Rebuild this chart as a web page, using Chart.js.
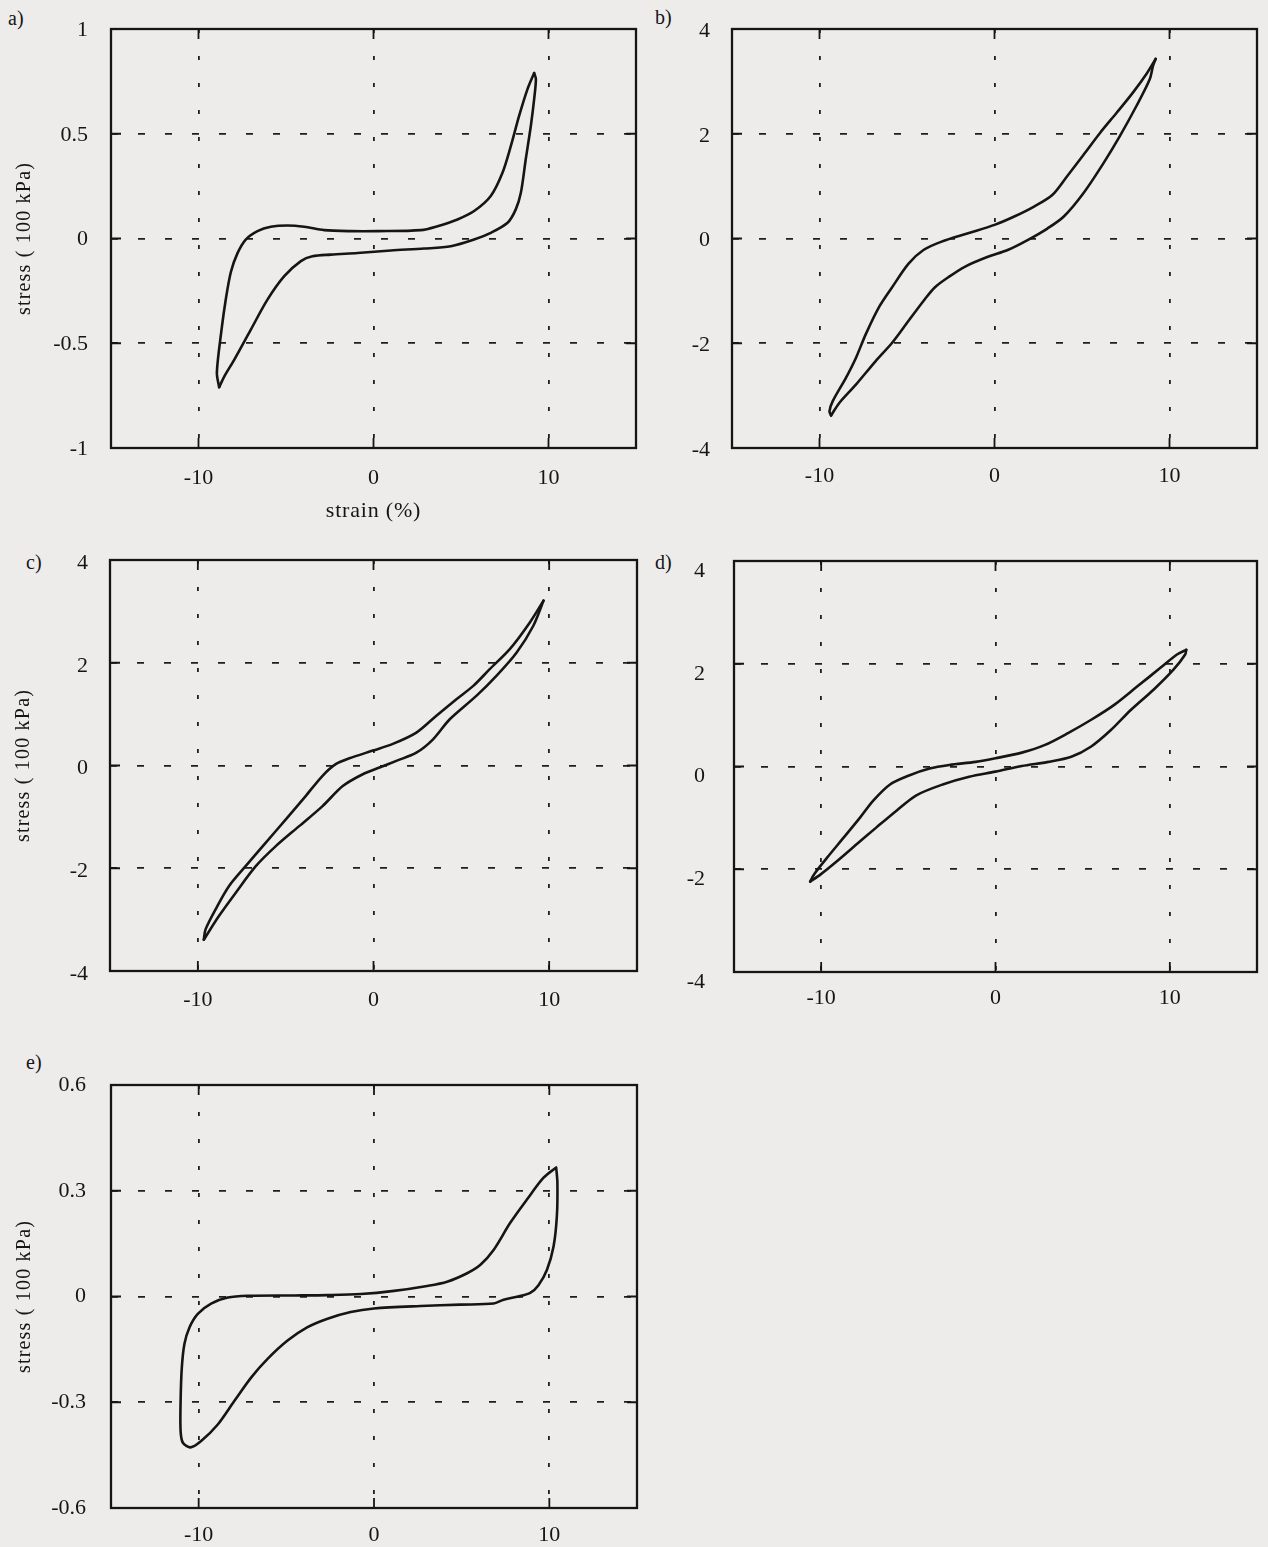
<!DOCTYPE html>
<html><head><meta charset="utf-8">
<script src="https://cdn.jsdelivr.net/npm/chart.js@4.4.1/dist/chart.umd.min.js"></script>
<style>
html,body{margin:0;padding:0;background:#eeeceb;}
body{width:1268px;height:1547px;position:relative;overflow:hidden;font-family:"Liberation Serif","Times New Roman",serif;color:#151515;}
canvas{position:absolute;}
.lbl{position:absolute;font-size:20px;line-height:20px;white-space:nowrap;}
</style></head><body>
<div class="lbl" style="left:8px;top:8px">a)</div>
<div class="lbl" style="left:655px;top:7px">b)</div>
<div class="lbl" style="left:26px;top:552px">c)</div>
<div class="lbl" style="left:655px;top:552px">d)</div>
<div class="lbl" style="left:26px;top:1052px">e)</div>
<canvas id="ca"></canvas>
<canvas id="cb"></canvas>
<canvas id="cc"></canvas>
<canvas id="cd"></canvas>
<canvas id="ce"></canvas>
<script>
// ---------- data ----------
const xTicks = [-10, 0, 10];
const aYTicks = [-1, -0.5, 0, 0.5, 1];
const bYTicks = [-4, -2, 0, 2, 4];
const cYTicks = [-4, -2, 0, 2, 4];
const dYTicks = [-4, -2, 0, 2, 4];
const eYTicks = [-0.6, -0.3, 0, 0.3, 0.6];
const xTitleText = 'strain (%)';
const yTitleText = 'stress ( 100 kPa)';

// a)
const aLoadStrain = [-8.82, -8.95, -8.69, -8.44, -8.15, -7.77, -7.30, -6.63, -5.87, -4.91, -3.96, -2.82, -1.30, 0.23, 2.70, 3.66, 4.80, 5.75, 6.70, 7.37, 7.85, 8.32, 8.80, 9.18];
const aLoadStress = [-0.71, -0.64, -0.44, -0.29, -0.16, -0.07, -0.005, 0.035, 0.056, 0.062, 0.056, 0.040, 0.035, 0.035, 0.040, 0.059, 0.091, 0.131, 0.203, 0.314, 0.442, 0.585, 0.713, 0.79];
const aUnloadStrain = [9.18, 9.28, 9.18, 8.99, 8.70, 8.42, 8.13, 7.66, 6.70, 5.75, 4.42, 2.90, 0.99, -0.91, -2.44, -3.49, -4.15, -5.10, -6.06, -7.01, -7.96, -8.53, -8.82];
const aUnloadStress = [0.79, 0.761, 0.665, 0.537, 0.378, 0.218, 0.139, 0.075, 0.027, -0.005, -0.037, -0.048, -0.057, -0.069, -0.077, -0.085, -0.108, -0.180, -0.292, -0.435, -0.579, -0.659, -0.71];

// b)
const bLoadStrain = [-9.34, -9.43, -9.25, -8.49, -7.92, -7.36, -6.60, -5.85, -4.91, -4.06, -3.02, -1.51, 0, 1.13, 2.26, 3.30, 4.15, 5.09, 6.04, 6.98, 7.92, 8.68, 9.21];
const bLoadStress = [-3.38, -3.30, -3.11, -2.66, -2.28, -1.83, -1.31, -0.93, -0.48, -0.22, -0.06, 0.10, 0.26, 0.42, 0.61, 0.83, 1.19, 1.60, 2.02, 2.40, 2.79, 3.14, 3.43];
const bUnloadStrain = [9.21, 9.06, 8.87, 8.11, 7.17, 6.23, 5.09, 3.96, 3.02, 1.89, 0.75, -0.38, -1.70, -2.64, -3.40, -3.96, -4.91, -5.85, -6.79, -7.92, -8.87, -9.34];
const bUnloadStress = [3.43, 3.30, 3.04, 2.53, 1.96, 1.44, 0.87, 0.42, 0.19, -0.03, -0.22, -0.35, -0.54, -0.74, -0.93, -1.15, -1.57, -1.99, -2.34, -2.79, -3.14, -3.38];

// c)
const cLoadStrain = [-9.66, -9.56, -8.99, -8.23, -7.28, -6.13, -4.99, -3.85, -2.90, -2.13, -1.37, -0.04, 1.10, 2.44, 3.58, 4.72, 5.68, 6.63, 7.77, 8.91, 9.68];
const cLoadStress = [-3.39, -3.19, -2.80, -2.35, -1.96, -1.50, -1.05, -0.59, -0.20, 0.03, 0.14, 0.29, 0.42, 0.64, 0.97, 1.29, 1.55, 1.88, 2.27, 2.79, 3.21];
const cUnloadStrain = [9.68, 9.10, 8.15, 7.01, 5.87, 4.34, 3.39, 2.44, 1.30, 0.34, -0.61, -1.75, -2.90, -4.23, -5.56, -6.70, -7.85, -8.80, -9.66];
const cUnloadStress = [3.21, 2.72, 2.20, 1.75, 1.36, 0.90, 0.51, 0.25, 0.09, -0.04, -0.17, -0.40, -0.79, -1.18, -1.57, -1.96, -2.48, -2.93, -3.39];

// d)
const dLoadStrain = [-10.63, -10.41, -9.65, -8.70, -7.76, -7.00, -6.05, -4.92, -3.78, -2.65, -1.14, 0, 1.51, 2.84, 4.16, 5.49, 6.81, 8.14, 9.46, 10.41, 10.94];
const dLoadStress = [-2.24, -2.10, -1.77, -1.38, -0.99, -0.66, -0.35, -0.17, -0.04, 0.03, 0.09, 0.16, 0.27, 0.42, 0.65, 0.91, 1.20, 1.56, 1.92, 2.18, 2.27];
const dUnloadStrain = [10.94, 10.88, 10.22, 9.08, 7.76, 6.62, 5.49, 4.35, 3.03, 1.51, 0, -1.51, -3.03, -4.54, -5.68, -6.81, -7.95, -9.08, -10.03, -10.63];
const dUnloadStress = [2.27, 2.18, 1.89, 1.50, 1.10, 0.71, 0.39, 0.19, 0.09, 0.01, -0.10, -0.20, -0.35, -0.56, -0.86, -1.18, -1.51, -1.84, -2.10, -2.24];

// e)
const eLoopStrain = [10.39, 10.46, 10.43, 10.24, 9.86, 9.38, 8.91, 8.15, 7.39, 6.82, 4.93, 2.65, 0, -1.33, -2.65, -3.79, -4.93, -6.07, -7.01, -7.96, -8.91, -9.86, -10.46, -10.90, -11.03, -11.03, -10.96, -10.81, -10.52, -10.05, -9.29, -8.34, -7.20, -4.55, -2.65, -0.76, 1.14, 3.03, 4.17, 5.31, 6.07, 6.82, 7.77, 8.72, 9.67, 10.39];
const eLoopStress = [0.366, 0.323, 0.228, 0.142, 0.075, 0.032, 0.010, -0.001, -0.009, -0.020, -0.023, -0.027, -0.034, -0.044, -0.063, -0.087, -0.125, -0.177, -0.230, -0.296, -0.363, -0.410, -0.428, -0.415, -0.382, -0.296, -0.201, -0.134, -0.087, -0.049, -0.020, -0.003, 0.002, 0.003, 0.004, 0.007, 0.016, 0.030, 0.042, 0.066, 0.090, 0.132, 0.209, 0.275, 0.337, 0.366];

// ---------- drawing ----------
const FONT = '"Liberation Serif", "Times New Roman", serif';
const INK = '#151515';
Chart.defaults.font.family = FONT;
Chart.defaults.color = INK;

function pts(xs, ys) { return xs.map((x, i) => ({ x: x, y: ys[i] })); }

const framePlugin = {
  id: 'frame',
  afterDraw(chart) {
    const { ctx, chartArea: a, scales: { x, y } } = chart;
    const TL = 10;
    ctx.save();
    ctx.setLineDash([]);
    ctx.strokeStyle = INK;
    ctx.lineWidth = 1.8;
    ctx.beginPath();
    x.ticks.forEach(t => {
      const p = x.getPixelForValue(t.value);
      ctx.moveTo(p, a.top); ctx.lineTo(p, a.top + TL);
      ctx.moveTo(p, a.bottom); ctx.lineTo(p, a.bottom - TL);
    });
    y.ticks.forEach(t => {
      const p = y.getPixelForValue(t.value);
      ctx.moveTo(a.left, p); ctx.lineTo(a.left + TL, p);
      ctx.moveTo(a.right, p); ctx.lineTo(a.right - TL, p);
    });
    ctx.stroke();
    ctx.lineWidth = 2.3;
    ctx.strokeRect(a.left, a.top, a.right - a.left, a.bottom - a.top);
    ctx.restore();
  }
};

const TITLE_SPACING = { x: '0.8px', y: '1.2px' };
const spacingPlugin = {
  id: 'titleSpacing',
  beforeDraw(chart) {
    ['x', 'y'].forEach(id => {
      const s = chart.scales[id];
      if (s && !s._spPatched) {
        const orig = s.drawTitle;
        s.drawTitle = function () {
          const c = this.ctx;
          c.save();
          c.letterSpacing = TITLE_SPACING[id];
          orig.call(this);
          c.restore();
        };
        s._spPatched = true;
      }
    });
  }
};

function makePanel(canvasId, frame, yTicks, branches, o) {
  const PT = 22, PR = 8;
  const cv = document.getElementById(canvasId);
  const w = o.yw + (frame.R - frame.L) + PR;
  const h = PT + (frame.B - frame.T) + o.xh;
  cv.width = w; cv.height = h;
  cv.style.width = w + 'px'; cv.style.height = h + 'px';
  cv.style.left = (frame.L - o.yw) + 'px';
  cv.style.top = (frame.T - PT) + 'px';
  const tickFont = { family: FONT, size: 22 };
  new Chart(cv.getContext('2d'), {
    type: 'scatter',
    data: {
      datasets: branches.map(b => ({
        data: pts(b[0], b[1]),
        showLine: true,
        borderColor: INK,
        borderWidth: 2.6,
        pointRadius: 0,
        pointHoverRadius: 0,
        tension: 0.3,
        fill: false,
        borderCapStyle: 'round',
        borderJoinStyle: 'round'
      }))
    },
    options: {
      responsive: false,
      animation: false,
      devicePixelRatio: 1,
      events: [],
      layout: { autoPadding: false, padding: { top: PT, right: PR, left: 0, bottom: 0 } },
      plugins: { legend: { display: false }, tooltip: { enabled: false } },
      scales: {
        x: {
          type: 'linear', position: 'bottom', min: -15, max: 15,
          afterBuildTicks: s => { s.ticks = xTicks.map(v => ({ value: v })); },
          afterFit: s => { s.height = o.xh; s.paddingLeft = 0; s.paddingRight = 0; s.paddingTop = 0; s.paddingBottom = 0; },
          grid: { color: '#1e1e1e', lineWidth: 1.8, drawTicks: false },
          border: { display: false, dash: [4, 23] },
          ticks: { padding: o.xPad, font: tickFont, color: INK, maxRotation: 0, autoSkip: false, callback: v => String(v) },
          title: o.xTitle ? { display: true, text: xTitleText, font: { family: FONT, size: 22 }, color: INK, padding: { top: 0, bottom: 4 } } : { display: false }
        },
        y: {
          type: 'linear', position: 'left', min: yTicks[0], max: yTicks[yTicks.length - 1],
          afterBuildTicks: s => { s.ticks = yTicks.map(v => ({ value: v })); },
          afterFit: s => { s.width = o.yw; s.paddingLeft = 0; s.paddingRight = 0; s.paddingTop = 0; s.paddingBottom = 0; },
          grid: { color: '#1e1e1e', lineWidth: 1.8, drawTicks: false },
          border: { display: false, dash: [7, 20] },
          ticks: { padding: o.yPad, labelOffset: o.yOff, font: tickFont, color: INK, autoSkip: false, callback: v => String(v) },
          title: o.yTitle ? { display: true, text: yTitleText, font: { family: FONT, size: 20 }, color: INK, padding: { top: o.yTitlePad, bottom: 0 } } : { display: false }
        }
      }
    },
    plugins: [framePlugin, spacingPlugin]
  });
}

makePanel('ca', { L: 111, T: 29, R: 636, B: 448 }, aYTicks,
  [[aLoadStrain, aLoadStress], [aUnloadStrain, aUnloadStress]],
  { yw: 111, xh: 80, yPad: 23, xPad: 17, yOff: 1, yTitle: true, yTitlePad: 12.5, xTitle: true });

makePanel('cb', { L: 732, T: 29, R: 1257, B: 448 }, bYTicks,
  [[bLoadStrain, bLoadStress], [bUnloadStrain, bUnloadStress]],
  { yw: 92, xh: 50, yPad: 22, xPad: 15, yOff: 2, yTitle: false, xTitle: false });

makePanel('cc', { L: 110, T: 560, R: 637, B: 971 }, cYTicks,
  [[cLoadStrain, cLoadStress], [cUnloadStrain, cUnloadStress]],
  { yw: 110, xh: 50, yPad: 22, xPad: 16, yOff: 3, yTitle: true, yTitlePad: 11.5, xTitle: false });

makePanel('cd', { L: 734, T: 561, R: 1257, B: 972 }, dYTicks,
  [[dLoadStrain, dLoadStress], [dUnloadStrain, dUnloadStress]],
  { yw: 94, xh: 50, yPad: 29, xPad: 13, yOff: 10, yTitle: false, xTitle: false });

makePanel('ce', { L: 111, T: 1085, R: 637, B: 1508 }, eYTicks,
  [[eLoopStrain, eLoopStress]],
  { yw: 111, xh: 50, yPad: 25, xPad: 14, yOff: 0, yTitle: true, yTitlePad: 12.5, xTitle: false });
</script>
</body></html>
